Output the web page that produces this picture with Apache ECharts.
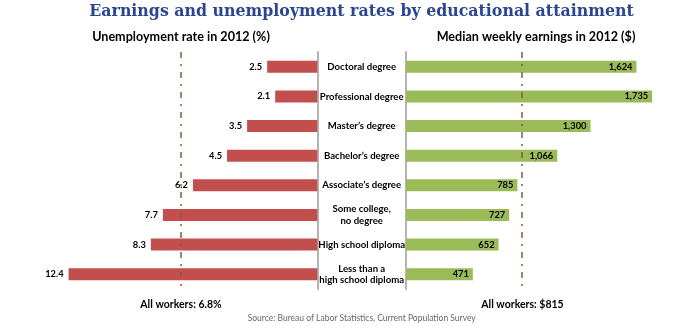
<!DOCTYPE html>
<html>
<head>
<meta charset="utf-8">
<script src="https://cdn.jsdelivr.net/npm/echarts@6/dist/echarts.min.js"></script>
<style>
html,body{margin:0;padding:0;background:#fff;}
#chart{width:695px;height:330px;}
</style>
</head>
<body>
<div id="chart"></div>
<script>
var categories = ['Doctoral degree', 'Professional degree', 'Master\u2019s degree', 'Bachelor\u2019s degree', 'Associate\u2019s degree', 'Some college,\nno degree', 'High school diploma', 'Less than a\nhigh school diploma'];
var unemployment = [2.5, 2.1, 3.5, 4.5, 6.2, 7.7, 8.3, 12.4];
var earnings = [1624, 1735, 1300, 1066, 785, 727, 652, 471];
var allWorkersUnemployment = 6.8;
var allWorkersEarnings = 815;
var titleText = 'Earnings and unemployment rates by educational attainment';
var leftHeading = 'Unemployment rate in 2012 (%)';
var rightHeading = 'Median weekly earnings in 2012 ($)';
var leftNote = 'All workers: 6.8%';
var rightNote = 'All workers: $815';
var sourceText = 'Source: Bureau of Labor Statistics, Current Population Survey';

var SANS = 'Lato, "Open Sans", sans-serif';
var chart = echarts.init(document.getElementById('chart'), null, {renderer: 'canvas'});
var dash = {color: '#8a5a3a', width: 1.5, type: [6, 6, 2, 6]};
var option = {
  animation: false,
  backgroundColor: '#fff',
  grid: [
    {left: 36.5, width: 280.8, top: 52, height: 237},
    {left: 406, width: 283.8, top: 52, height: 237}
  ],
  xAxis: [
    {gridIndex: 0, type: 'value', min: 0, max: 14, inverse: true, show: false, splitLine: {show: false}},
    {gridIndex: 1, type: 'value', min: 0, max: 2000, show: false, splitLine: {show: false}}
  ],
  yAxis: [
    {gridIndex: 0, type: 'category', data: categories, inverse: true, position: 'right',
     axisLine: {show: true, lineStyle: {color: '#b4b4b4', width: 2}}, axisTick: {show: false}, axisLabel: {show: false}},
    {gridIndex: 1, type: 'category', data: categories, inverse: true, position: 'left',
     axisLine: {show: true, lineStyle: {color: '#b4b4b4', width: 2}}, axisTick: {show: false},
     axisLabel: {show: true, align: 'center', margin: 44.3, color: '#000', fontFamily: SANS, fontWeight: 'bold', fontSize: 9.6, lineHeight: 11.5}}
  ],
  series: [
    {type: 'bar', xAxisIndex: 0, yAxisIndex: 0, data: unemployment, barWidth: 12,
     itemStyle: {color: '#c24f4d'},
     label: {show: true, position: 'left', distance: 5, color: '#000', fontFamily: SANS, fontWeight: 'bold', fontSize: 9.3},
     markLine: {silent: true, symbol: 'none', label: {show: false}, lineStyle: dash, data: [{xAxis: allWorkersUnemployment}]}},
    {type: 'bar', xAxisIndex: 1, yAxisIndex: 1, data: earnings, barWidth: 12,
     itemStyle: {color: '#9bbb59'},
     label: {show: true, position: 'insideRight', distance: 4, color: '#000', fontFamily: SANS, fontWeight: 'bold', fontSize: 9.3,
       formatter: function (p) { return p.value.toLocaleString('en-US'); }},
     markLine: {silent: true, symbol: 'none', label: {show: false}, lineStyle: dash, data: [{xAxis: allWorkersEarnings}]}}
  ],
  graphic: [
    {type: 'text', x: 361.5, y: 11.5, style: {text: titleText, fill: '#2a4690', font: 'bold 15.8px "DejaVu Serif", serif', textAlign: 'center', textVerticalAlign: 'middle'}},
    {type: 'text', x: 181, y: 37, style: {text: leftHeading, fill: '#000', font: 'bold 12.6px ' + SANS, textAlign: 'center', textVerticalAlign: 'middle'}},
    {type: 'text', x: 536, y: 37, style: {text: rightHeading, fill: '#000', font: 'bold 12.6px ' + SANS, textAlign: 'center', textVerticalAlign: 'middle'}},
    {type: 'text', x: 181, y: 305, style: {text: leftNote, fill: '#000', font: 'bold 10.5px ' + SANS, textAlign: 'center', textVerticalAlign: 'middle'}},
    {type: 'text', x: 522.5, y: 305, style: {text: rightNote, fill: '#000', font: 'bold 10.5px ' + SANS, textAlign: 'center', textVerticalAlign: 'middle'}},
    {type: 'text', x: 361.7, y: 318, style: {text: sourceText, fill: '#666', font: '8.5px ' + SANS, textAlign: 'center', textVerticalAlign: 'middle'}}
  ]
};
chart.setOption(option);
</script>
</body>
</html>
